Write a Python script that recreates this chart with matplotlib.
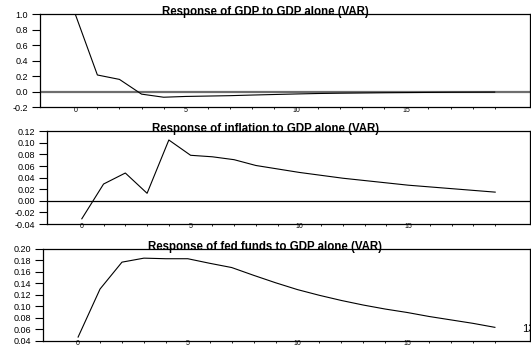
import matplotlib.pyplot as plt
from matplotlib.ticker import MultipleLocator, FixedLocator, FormatStrFormatter

plt.rcParams['font.family'] = ['Liberation Sans', 'DejaVu Sans']

# horizon (quarters after the shock)
periods = list(range(20))

# impulse responses to a GDP shock
gdp = [1.0, 0.217, 0.16, -0.03, -0.07, -0.06, -0.055, -0.05, -0.042, -0.035,
       -0.028, -0.022, -0.018, -0.015, -0.012, -0.010, -0.008, -0.006, -0.005, -0.004]
inflation = [-0.031, 0.029, 0.048, 0.013, 0.105, 0.0786, 0.076, 0.071, 0.061, 0.055,
             0.049, 0.044, 0.039, 0.035, 0.031, 0.027, 0.024, 0.021, 0.018, 0.015]
fedfunds = [0.046, 0.130, 0.177, 0.184, 0.183, 0.183, 0.175, 0.1676, 0.154, 0.141,
            0.129, 0.119, 0.110, 0.102, 0.095, 0.089, 0.082, 0.076, 0.070, 0.063]

titles = ['Response of GDP to GDP alone (VAR)',
          'Response of inflation to GDP alone (VAR)',
          'Response of fed funds to GDP alone (VAR)']
series = [gdp, inflation, fedfunds]
ylims = [(-0.2, 1.0), (-0.04, 0.12), (0.04, 0.20)]
ysteps = [0.2, 0.02, 0.02]
yfmts = ['%.1f', '%.2f', '%.2f']
xlabels = [0, 5, 10, 15]

W, H = 531, 347
fig = plt.figure(figsize=(W / 100, H / 100), dpi=100)

# panel boxes in pixels: left, right, top, bottom
boxes = [(40, 530, 14.3, 107.3), (47, 530, 131.3, 224), (43, 530, 249, 340.5)]

for i in range(3):
    l, r, t, b = boxes[i]
    ax = fig.add_axes([l / W, 1 - b / H, (r - l) / W, (b - t) / H])
    # zero line
    if i == 0:
        ax.axhline(0, color='#6e6e6e', linewidth=1.6, zorder=1)
    elif i == 1:
        ax.axhline(0, color='black', linewidth=0.9, zorder=1)
    # plotting the response
    ax.plot(periods, series[i], color='black', linewidth=0.8, zorder=2)
    ax.set_xlim(-1.6, 20.6)
    ax.set_ylim(ylims[i])
    ax.yaxis.set_major_locator(MultipleLocator(ysteps[i]))
    ax.yaxis.set_major_formatter(FormatStrFormatter(yfmts[i]))
    ax.xaxis.set_major_locator(FixedLocator(xlabels))
    ax.xaxis.set_minor_locator(FixedLocator(periods))
    ax.tick_params(axis='y', length=5.8, width=0.8, pad=3, labelsize=6.5)
    ax.tick_params(axis='x', which='major', length=0, pad=-0.5, labelsize=5)
    ax.tick_params(axis='x', which='minor', length=1.5, width=0.6)
    for s in ax.spines.values():
        s.set_linewidth(0.9)
    # title sits on the top border
    fig.text(0.5, 1 - (t + 1) / H, titles[i], ha='center', va='baseline',
             fontsize=8.3, fontweight='bold')

# page number
fig.text(521.7 / W, 1 - 331.7 / H, '13', fontsize=8, va='baseline', ha='left')

plt.savefig('out.png', dpi=100)
